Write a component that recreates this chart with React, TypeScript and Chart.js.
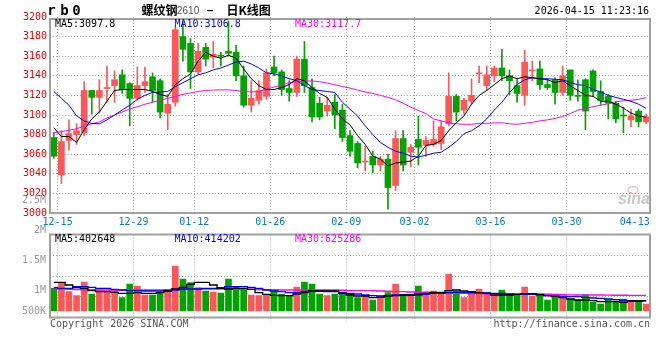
import React, { useEffect, useRef } from 'react';
import { Chart, registerables } from 'chart.js';

Chart.register(...registerables);

// ---------- data ----------
const dates = [
  '12-12', '12-15', '12-16', '12-17', '12-18', '12-19', '12-22', '12-23', '12-24', '12-25',
  '12-26', '12-29', '12-30', '12-31', '01-05', '01-06', '01-07', '01-08', '01-09', '01-12',
  '01-13', '01-14', '01-15', '01-16', '01-19', '01-20', '01-21', '01-22', '01-23', '01-26',
  '01-27', '01-28', '01-29', '01-30', '02-02', '02-03', '02-04', '02-05', '02-06', '02-09',
  '02-10', '02-11', '02-12', '02-13', '02-24', '02-25', '02-26', '02-27', '03-02', '03-03',
  '03-04', '03-05', '03-06', '03-09', '03-10', '03-11', '03-12', '03-13', '03-16', '03-17',
  '03-18', '03-19', '03-20', '03-23', '03-24', '03-25', '03-26', '03-27', '03-30', '03-31',
  '04-01', '04-02', '04-03', '04-07', '04-08', '04-09', '04-10', '04-13', '04-14',
];
const tickDates = ['12-15', '12-29', '01-12', '01-26', '02-09', '03-02', '03-16', '03-30', '04-13'];

const opens = [
  3077, 3039, 3074, 3080, 3082, 3125, 3118, 3127, 3130, 3141,
  3132, 3117, 3130, 3139, 3135, 3102, 3113, 3180, 3173, 3144,
  3169, 3159, 3161, 3165, 3164, 3140, 3110, 3115, 3119, 3149,
  3144, 3127, 3123, 3157, 3128, 3112, 3104, 3113, 3105, 3079,
  3071, 3052, 3058, 3049, 3055, 3028, 3076, 3062, 3075, 3069,
  3070, 3071, 3091, 3119, 3105, 3114, 3142, 3130, 3140,
  3148, 3140, 3130, 3120, 3145, 3147, 3131, 3136, 3123, 3146,
  3120, 3136, 3145, 3124, 3119, 3112, 3100, 3095, 3104, 3093,
];
const highs = [
  3082, 3084, 3095, 3091, 3134, 3125, 3136, 3150, 3145, 3146,
  3133, 3149, 3149, 3143, 3137, 3121, 3190, 3196, 3178, 3173,
  3173, 3175, 3164, 3196, 3171, 3150, 3135, 3135, 3147, 3160,
  3146, 3135, 3160, 3175, 3137, 3118, 3118, 3121, 3111, 3084,
  3073, 3068, 3063, 3058, 3060, 3084, 3084, 3070, 3099, 3078,
  3094, 3094, 3143, 3121, 3117, 3137, 3150, 3150, 3150,
  3167, 3146, 3137, 3166, 3155, 3155, 3137, 3138, 3150, 3146,
  3136, 3137, 3146, 3135, 3121, 3114, 3108, 3106, 3106, 3101,
];
const lows = [
  3056, 3030, 3064, 3070, 3079, 3101, 3102, 3113, 3113, 3122,
  3089, 3115, 3123, 3113, 3097, 3085, 3109, 3155, 3127, 3142,
  3150, 3148, 3150, 3160, 3135, 3108, 3103, 3111, 3116, 3140,
  3120, 3114, 3119, 3123, 3093, 3095, 3099, 3086, 3073, 3058,
  3046, 3043, 3041, 3043, 3004, 3023, 3043, 3047, 3049, 3058,
  3068, 3065, 3089, 3094, 3101, 3111, 3133, 3125, 3134,
  3135, 3121, 3113, 3110, 3135, 3126, 3126, 3111, 3120, 3115,
  3114, 3085, 3119, 3110, 3096, 3092, 3082, 3088, 3088, 3091,
];
const closes = [
  3058, 3073, 3081, 3084, 3125, 3118, 3125, 3128, 3136, 3126,
  3117, 3130, 3134, 3125, 3103, 3111, 3187, 3167, 3144, 3165,
  3157, 3162, 3160, 3163, 3140, 3110, 3117, 3125, 3143, 3143,
  3126, 3123, 3157, 3130, 3098, 3098, 3110, 3100, 3077, 3063,
  3051, 3053, 3049, 3055, 3026, 3076, 3049, 3067, 3067, 3074,
  3075, 3088, 3119, 3103, 3115, 3120, 3143, 3141, 3148,
  3140, 3135, 3122, 3154, 3145.5, 3131, 3128, 3123, 3140, 3120,
  3119, 3104, 3124, 3115, 3112, 3096, 3099, 3099, 3093, 3098,
];

const ma5 = [
  3087, 3078, 3078, 3072, 3085, 3096, 3103, 3114, 3125, 3126,
  3126, 3126, 3126, 3124, 3121, 3119, 3131, 3137, 3142, 3155,
  3164, 3160, 3158, 3161, 3158, 3147, 3137, 3130, 3126, 3126,
  3128, 3131, 3137, 3135, 3128, 3122, 3118, 3106, 3096, 3090,
  3079, 3070, 3058, 3055, 3048, 3051, 3052, 3053, 3058, 3069,
  3070, 3074, 3084, 3092, 3099, 3111, 3120, 3125, 3131,
  3137, 3140, 3137, 3139, 3138, 3137, 3136, 3133, 3135, 3130,
  3125, 3120, 3119, 3114, 3114, 3111, 3107, 3102, 3099, 3097.8,
];
const ma10 = [
  3124, 3117, 3110, 3099, 3094, 3091.5, 3091, 3095, 3100, 3105,
  3110, 3116, 3120, 3123, 3123.5, 3124, 3129, 3133, 3137, 3141,
  3143, 3146, 3148, 3151, 3154, 3155, 3152, 3148, 3143, 3142,
  3140, 3137, 3135, 3130, 3126, 3125, 3124, 3123, 3113, 3106,
  3099, 3089, 3080, 3072, 3067, 3063, 3061, 3058, 3057, 3059,
  3061, 3062, 3067, 3073, 3081, 3084, 3089, 3096, 3105,
  3113, 3123, 3131, 3136, 3138, 3137, 3137, 3136.5, 3136, 3133,
  3131, 3130, 3126, 3123.5, 3120, 3118, 3116, 3114, 3111, 3106.8,
];
const ma30 = [
  3082, 3083, 3084.5, 3086, 3088.5, 3091, 3093, 3097, 3100, 3103,
  3106, 3108.5, 3111, 3113, 3115, 3117, 3119, 3121, 3122.5, 3124,
  3125, 3125.5, 3125.6, 3125.6, 3125, 3124, 3123.5, 3124, 3126.5, 3128.5,
  3130.5, 3133, 3134, 3134.5, 3134.8, 3134, 3132.5, 3131, 3129, 3127.5,
  3125.5, 3123.5, 3122, 3120, 3118, 3115.5, 3112, 3108, 3104.5, 3101.5,
  3096, 3094, 3092, 3091, 3090.5, 3090.5, 3091.5, 3091.5, 3092,
  3092, 3091, 3090.5, 3091.5, 3092.5, 3094, 3095, 3096.5, 3098.5, 3101.5,
  3105, 3107, 3108.5, 3110, 3111.5, 3113.5, 3114.5, 3115, 3116, 3117.7,
];

const volumes = [
  907000, 1147000, 773000, 613000, 1160000, 680000, 840000, 813000, 840000, 533000,
  1080000, 1000000, 640000, 640000, 707000, 840000, 1800000, 1280000, 1133000, 933000,
  800000, 760000, 720000, 1280000, 973000, 880000, 640000, 613000, 640000, 813000,
  680000, 613000, 960000, 1160000, 1080000, 680000, 613000, 680000, 747000, 667000,
  533000, 600000, 440000, 600000, 733000, 1080000, 640000, 600000, 1000000, 773000,
  800000, 733000, 1480000, 800000, 533000, 707000, 880000, 733000, 640000,
  840000, 667000, 667000, 960000, 600000, 613000, 440000, 533000, 573000, 480000,
  440000, 653000, 360000, 280000, 480000, 400000, 480000, 387000, 373000, 280000,
];
const volMa5 = [
  1147000, 1147000, 1040000, 933000, 907000, 813000, 773000, 773000, 747000, 707000,
  707000, 733000, 707000, 707000, 733000, 800000, 880000, 947000, 1067000, 1147000,
  1147000, 1040000, 907000, 880000, 907000, 907000, 867000, 733000, 667000, 627000,
  613000, 613000, 680000, 733000, 800000, 800000, 800000, 800000, 707000, 640000,
  600000, 600000, 533000, 547000, 600000, 613000, 640000, 640000, 680000, 707000,
  747000, 747000, 813000, 840000, 800000, 773000, 733000, 707000, 640000,
  640000, 640000, 667000, 693000, 693000, 667000, 613000, 573000, 533000, 480000,
  440000, 440000, 413000, 373000, 373000, 373000, 347000, 400000, 400000, 402648,
];
const volMa10 = [
  933000, 907000, 907000, 973000, 973000, 947000, 907000, 907000, 867000, 840000,
  813000, 813000, 800000, 800000, 800000, 800000, 840000, 880000, 880000, 880000,
  907000, 907000, 933000, 973000, 973000, 973000, 947000, 907000, 840000, 800000,
  773000, 733000, 733000, 773000, 800000, 800000, 773000, 773000, 733000, 707000,
  680000, 640000, 613000, 600000, 613000, 640000, 640000, 640000, 640000, 667000,
  707000, 707000, 733000, 747000, 747000, 733000, 733000, 720000, 707000,
  707000, 680000, 667000, 667000, 667000, 640000, 613000, 600000, 587000, 573000,
  573000, 547000, 520000, 507000, 480000, 453000, 427000, 413000, 400000, 414202,
];
const volMa30 = [
  880000, 880000, 870000, 860000, 850000, 850000, 840000, 840000, 840000, 840000,
  840000, 840000, 840000, 840000, 840000, 850000, 860000, 870000, 880000, 880000,
  880000, 880000, 880000, 880000, 880000, 870000, 870000, 860000, 850000, 850000,
  840000, 840000, 840000, 840000, 840000, 840000, 840000, 840000, 830000, 813000,
  813000, 813000, 813000, 800000, 790000, 773000, 773000, 760000, 733000, 720000,
  707000, 707000, 707000, 707000, 707000, 700000, 700000, 690000, 690000,
  680000, 680000, 680000, 680000, 680000, 670000, 670000, 660000, 650000, 645000,
  640000, 640000, 640000, 640000, 635000, 630000, 630000, 625000, 625000, 625286,
];

const priceMin = 3000;
const priceMax = 3200;
const priceStep = 20;
const volAxisLabels = ['2.5M', '2M', '1.5M', '1M', '500K'];
const priceMaLabels = ['MA5:3097.8', 'MA10:3106.8', 'MA30:3117.7'];
const volMaLabels = ['MA5:402648', 'MA10:414202', 'MA30:625286'];
const titleName = '螺纹钢';
const titleCode = '2610';
const titleRest = '日K线图';
const symbol = ['r', 'b', '0'];
const timestamp = '2026-04-15 11:23:16';
const footerLeft = 'Copyright 2026 SINA.COM';
const footerRight = 'http://finance.sina.com.cn';

// ---------- styles ----------
const RED = '#ff5757';
const GREEN = '#00a300';
const GRID = '#a6a6a6';
const BORDER = '#a0a0a0';
const MA_COLORS = ['#000000', '#0000ff', '#ff00ff'];
const MONO = "'DejaVu Sans Mono', 'Liberation Mono', monospace";
const CJK = "'Noto Sans CJK SC', sans-serif";
const CLEAR = 'rgba(0,0,0,0)';

const upFlags = closes.map((c, i) => c >= opens[i]);
const candleColors = upFlags.map((u) => (u ? RED : GREEN));
const gridIdx = tickDates.slice(0, -1).map((d) => dates.indexOf(d));
const xGridColor = (ctx: any) => (gridIdx.includes(ctx.index) ? GRID : CLEAR);

// volume axis range: baseline sits a little above the panel bottom
const VOL_MIN = -260000;
const VOL_MAX = 3060000;

function drawXLabels(chart: any) {
  const { ctx, chartArea: a } = chart;
  const xs = chart.scales.x;
  const slot = (xs.right - xs.left) / dates.length;
  ctx.font = `10px ${MONO}`;
  ctx.fillStyle = '#0a78d0';
  ctx.textBaseline = 'middle';
  ctx.textAlign = 'left';
  tickDates.forEach((d) => {
    const i = dates.indexOf(d);
    const gx = xs.getPixelForValue(i) - slot / 2;
    const w = ctx.measureText(d).width;
    let x = gx - w / 2;
    if (x + w > a.right) x = a.right - w;
    ctx.fillText(d, x, a.bottom + 9);
  });
}

const mainDecor = {
  id: 'mainDecor',
  afterDraw(chart: any) {
    const { ctx, chartArea: a } = chart;
    ctx.save();
    // frame
    ctx.strokeStyle = BORDER;
    ctx.lineWidth = 2;
    ctx.strokeRect(a.left, a.top + 2, a.right - a.left, a.bottom - a.top - 2);

    drawXLabels(chart);

    // MA labels
    ctx.font = `10px ${MONO}`;
    ctx.textBaseline = 'middle';
    ctx.textAlign = 'left';
    const maX = [a.left + 5, a.left + 124.5, a.left + 245];
    priceMaLabels.forEach((t, k) => {
      ctx.fillStyle = MA_COLORS[k];
      ctx.fillText(t, maX[k], a.top + 7.5);
    });

    // header
    ctx.fillStyle = '#000';
    ctx.font = `bold 14px ${MONO}`;
    ctx.textAlign = 'center';
    [51.5, 64.5, 76.5].forEach((x, k) => ctx.fillText(symbol[k], x, 11.5));

    ctx.textAlign = 'left';
    ctx.font = `bold 12px ${CJK}`;
    ctx.fillText(titleName, 141.5, 10.5);
    ctx.fillStyle = '#555';
    ctx.font = `10px 'Liberation Sans', sans-serif`;
    ctx.fillText(titleCode, 177, 11);
    ctx.fillStyle = '#000';
    ctx.fillRect(207, 10, 6, 1.2);
    ctx.font = `bold 12px ${CJK}`;
    ctx.fillText(titleRest, 226.5, 10.5);

    ctx.font = `10px ${MONO}`;
    ctx.textAlign = 'right';
    ctx.fillText(timestamp, 649, 11.5);

    // the volume panel's top axis label sits in this panel
    ctx.fillStyle = '#9a9a9a';
    ctx.fillText(volAxisLabels[0], 46, 200.5);

    // watermark
    ctx.textAlign = 'left';
    ctx.fillStyle = 'rgba(185,185,185,0.8)';
    ctx.font = `italic bold 16px 'Liberation Sans', sans-serif`;
    ctx.fillText('sina', 618, 200);
    ctx.strokeStyle = 'rgba(235,140,140,0.55)';
    ctx.lineWidth = 1.5;
    ctx.beginPath();
    ctx.ellipse(633, 190, 5, 3.5, 0, 0, Math.PI * 2);
    ctx.stroke();
    ctx.restore();
  },
};

const volDecor = {
  id: 'volDecor',
  afterDraw(chart: any) {
    const { ctx, chartArea: a } = chart;
    ctx.save();
    ctx.strokeStyle = BORDER;
    ctx.lineWidth = 2;
    ctx.strokeRect(a.left, a.top, a.right - a.left, a.bottom - a.top);

    ctx.font = `10px ${MONO}`;
    ctx.textBaseline = 'middle';
    ctx.textAlign = 'left';
    const maX = [a.left + 5, a.left + 124.5, a.left + 245];
    volMaLabels.forEach((t, k) => {
      ctx.fillStyle = MA_COLORS[k];
      ctx.fillText(t, maX[k], a.top + 4.5);
    });

    ctx.fillStyle = '#9a9a9a';
    ctx.textAlign = 'right';
    const labelY = [5, 35, 65.7, 86];
    volAxisLabels.slice(1).forEach((t, k) => ctx.fillText(t, 46, labelY[k]));

    ctx.fillStyle = '#555';
    ctx.textAlign = 'left';
    ctx.fillText(footerLeft, a.left, 99.5);
    ctx.textAlign = 'right';
    ctx.fillText(footerRight, a.right, 99.5);
    ctx.restore();
  },
};

function lineDs(label: string, data: number[], color: string, width: number, stepped: any, order: number) {
  return {
    type: 'line' as const,
    label,
    data,
    borderColor: color,
    backgroundColor: color,
    borderWidth: width,
    pointRadius: 0,
    tension: 0,
    fill: false,
    stepped,
    order,
  };
}

export default function App() {
  const mainRef = useRef<HTMLCanvasElement>(null);
  const volRef = useRef<HTMLCanvasElement>(null);

  useEffect(() => {
    const main = new Chart(mainRef.current as HTMLCanvasElement, {
      type: 'bar',
      data: {
        labels: dates,
        datasets: [
          lineDs('MA5', ma5, MA_COLORS[0], 1, false, 0),
          lineDs('MA10', ma10, MA_COLORS[1], 1, false, 0),
          lineDs('MA30', ma30, MA_COLORS[2], 1, false, 0),
          {
            type: 'bar',
            label: 'body',
            data: opens.map((o, i) => [o, closes[i]]),
            backgroundColor: candleColors,
            barThickness: 6,
            grouped: false,
            minBarLength: 1,
            order: 1,
          } as any,
          {
            type: 'bar',
            label: 'wick',
            data: lows.map((l, i) => [l, highs[i]]),
            backgroundColor: candleColors,
            barThickness: 1,
            grouped: false,
            order: 2,
          } as any,
        ],
      },
      options: {
        animation: false,
        responsive: false,
        maintainAspectRatio: false,
        events: [],
        layout: { padding: { top: 17, right: 10, left: 0, bottom: 0 } },
        plugins: { legend: { display: false }, tooltip: { enabled: false } },
        scales: {
          x: {
            offset: true,
            grid: { offset: true, color: xGridColor, drawTicks: false, lineWidth: 1 },
            border: { display: false, dash: [1, 2] },
            ticks: { display: false, autoSkip: false },
            afterFit: (s: any) => {
              s.height = 22;
            },
          },
          y: {
            min: priceMin,
            max: priceMax,
            grid: {
              color: (ctx: any) =>
                ctx.tick && ctx.tick.value > priceMin && ctx.tick.value < priceMax ? GRID : CLEAR,
              drawTicks: false,
              lineWidth: 1,
            },
            border: { display: false, dash: [1, 2] },
            ticks: {
              stepSize: priceStep,
              color: '#ee0000',
              font: { family: MONO, size: 10 },
              padding: 3,
              callback: (v: any) => String(v),
            },
            afterFit: (s: any) => {
              s.width = 50;
            },
          },
        },
      } as any,
      plugins: [mainDecor],
    });

    const vol = new Chart(volRef.current as HTMLCanvasElement, {
      type: 'bar',
      data: {
        labels: dates,
        datasets: [
          lineDs('MA5', volMa5, MA_COLORS[0], 1.3, 'middle', 0),
          lineDs('MA10', volMa10, MA_COLORS[1], 1.3, 'middle', 0),
          lineDs('MA30', volMa30, MA_COLORS[2], 1.3, 'middle', 0),
          {
            type: 'bar',
            label: 'volume',
            data: volumes,
            backgroundColor: candleColors,
            barThickness: 6,
            order: 1,
          } as any,
        ],
      },
      options: {
        animation: false,
        responsive: false,
        maintainAspectRatio: false,
        events: [],
        layout: { padding: { top: 9.5, right: 10, left: 0, bottom: 0 } },
        plugins: { legend: { display: false }, tooltip: { enabled: false } },
        scales: {
          x: {
            offset: true,
            grid: {
              offset: true,
              color: xGridColor,
              drawTicks: true,
              tickLength: 4,
              tickColor: xGridColor,
              tickBorderDash: [1, 2],
              lineWidth: 1,
            },
            border: { display: false, dash: [1, 2] },
            ticks: { display: false, autoSkip: false },
            afterFit: (s: any) => {
              s.height = 22.5;
            },
          },
          y: {
            min: VOL_MIN,
            max: VOL_MAX,
            afterBuildTicks: (s: any) => {
              s.ticks = [0, 1, 2, 3, 4].map((k) => ({ value: s.min + ((s.max - s.min) * k) / 4 }));
            },
            grid: {
              color: (ctx: any) => (ctx.index > 0 && ctx.index < 4 ? GRID : CLEAR),
              drawTicks: false,
              lineWidth: 1,
            },
            border: { display: false, dash: [1, 2] },
            ticks: { display: false },
            afterFit: (s: any) => {
              s.width = 50;
            },
          },
        },
      } as any,
      plugins: [volDecor],
    });

    return () => {
      main.destroy();
      vol.destroy();
    };
  }, []);

  return (
    <div
      style={{
        position: 'absolute',
        left: 0,
        top: 0,
        width: 660,
        height: 360,
        background: '#ffffff',
        overflow: 'hidden',
      }}
    >
      <canvas
        ref={mainRef}
        width={660}
        height={235}
        style={{ position: 'absolute', left: 0, top: 0, width: 660, height: 235 }}
      />
      <canvas
        ref={volRef}
        width={660}
        height={115}
        style={{ position: 'absolute', left: 0, top: 225, width: 660, height: 115 }}
      />
    </div>
  );
}
